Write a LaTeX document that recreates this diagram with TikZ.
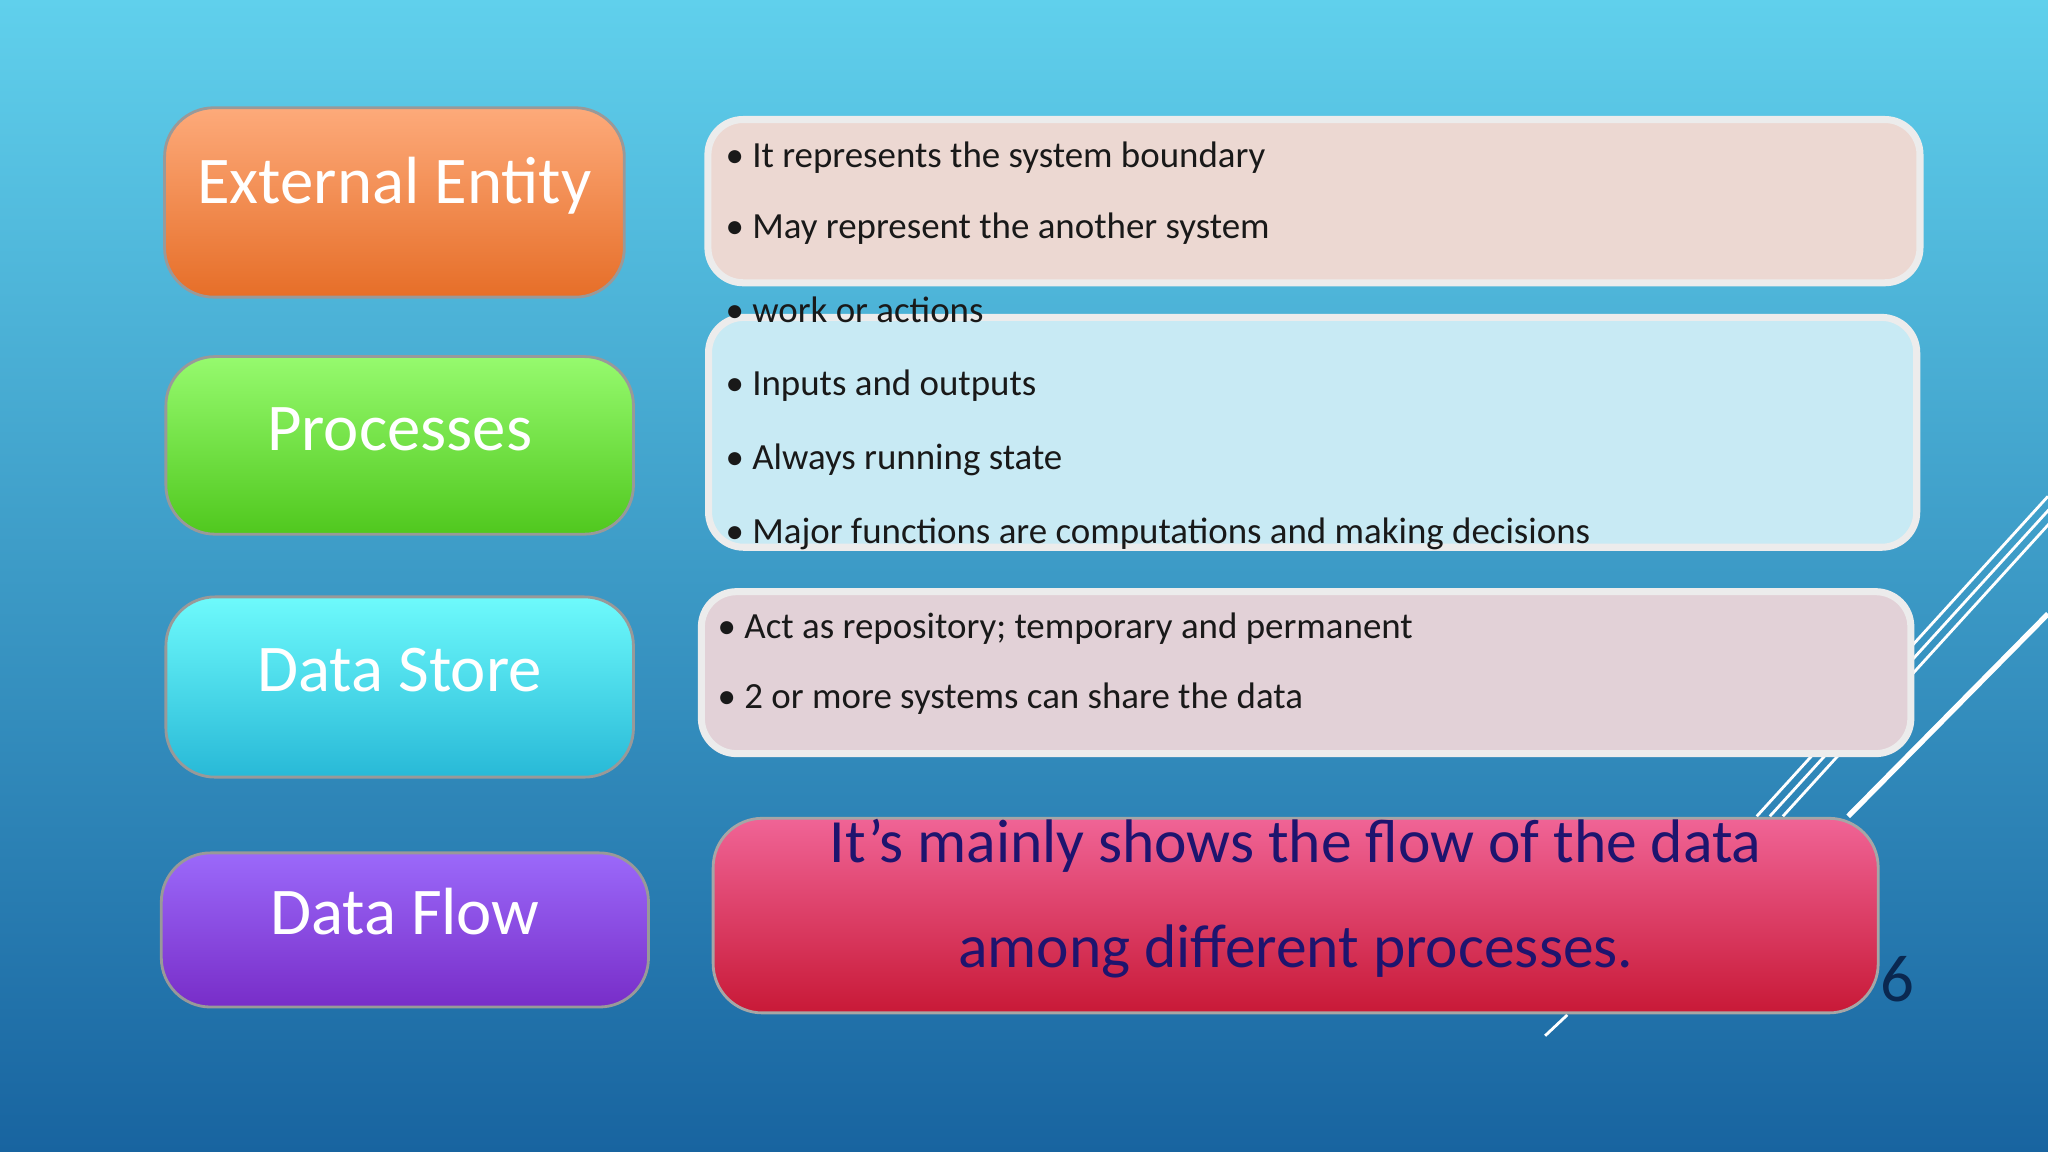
\documentclass[tikz,border=0pt]{standalone}
\usepackage{fontspec}
\setmainfont{Carlito}
\begin{document}
\begin{tikzpicture}[x=0.013061cm,y=-0.013061cm,
  lbox/.style={rounded corners=14pt,draw=black!40,line width=0.8pt},
  rbox/.style={rounded corners=10pt,draw=white!85!gray,line width=2pt},
  ltxt/.style={text=white,font=\fontsize{19}{22}\selectfont},
  btxt/.style={anchor=west,font=\fontsize{10.5}{12}\selectfont,text=black!90}]
\fill[top color={rgb,255:red,96;green,208;blue,236}, bottom color={rgb,255:red,24;green,100;blue,160}] (0,0) rectangle (1568,882);
\useasboundingbox (0,0) rectangle (1568,882);
% decorative lines
\foreach \a/\b in {1345/625,1355/625,1365/625}{\draw[white,line width=0.8pt] (\a,\b) -- (\a+223,\b-245);}
\draw[white,line width=1.5pt] (1415,625) -- (1568,470);
\draw[white,line width=0.8pt] (1183,793) -- (1200,777);
% left boxes
\node[lbox,top color={rgb,255:red,253;green,170;blue,122},bottom color={rgb,255:red,230;green,110;blue,40},minimum width={352*0.013061cm},minimum height={145*0.013061cm}] (ee) at (302,155) {};
\node[ltxt] at (302,142) {External Entity};
\node[lbox,top color={rgb,255:red,150;green,250;blue,110},bottom color={rgb,255:red,80;green,200;blue,30},minimum width={358*0.013061cm},minimum height={136*0.013061cm}] (pr) at (306,341) {};
\node[ltxt] at (306,329) {Processes};
\node[lbox,top color={rgb,255:red,110;green,250;blue,252},bottom color={rgb,255:red,40;green,185;blue,215},minimum width={358*0.013061cm},minimum height={138*0.013061cm}] (ds) at (306,526) {};
\node[ltxt] at (306,513) {Data Store};
\node[lbox,top color={rgb,255:red,155;green,105;blue,250},bottom color={rgb,255:red,120;green,45;blue,200},minimum width={373*0.013061cm},minimum height={118*0.013061cm}] (df) at (310,712) {};
\node[ltxt] at (310,698) {Data Flow};
% right boxes
\node[rbox,fill={rgb,255:red,236;green,216;blue,210},minimum width={928*0.013061cm},minimum height={125*0.013061cm}] (r1) at (1006,154) {};
\node[btxt] at (546,121) {• It represents the system boundary};
\node[btxt] at (546,175) {• May represent the another system};
\node[rbox,fill={rgb,255:red,200;green,234;blue,244},minimum width={925*0.013061cm},minimum height={176*0.013061cm}] (r2) at (1005,331) {};
\node[btxt] at (546,237) {• work or actions};
\node[btxt] at (546,295) {• Inputs and outputs};
\node[btxt] at (546,352) {• Always running state};
\node[btxt] at (546,409) {• Major functions are computations and making decisions};
\node[rbox,fill={rgb,255:red,226;green,209;blue,215},minimum width={926*0.013061cm},minimum height={124*0.013061cm}] (r3) at (1000,515) {};
\node[btxt] at (540,481) {• Act as repository; temporary and permanent};
\node[btxt] at (540,535) {• 2 or more systems can share the data};
\node[rounded corners=14pt,draw=black!35,line width=0.8pt,top color={rgb,255:red,240;green,100;blue,150},bottom color={rgb,255:red,200;green,25;blue,55},minimum width={892*0.013061cm},minimum height={149*0.013061cm}] (r4) at (992,701) {};
\node[align=center,text={rgb,255:red,30;green,20;blue,110},font=\fontsize{17.5}{30}\selectfont] at (992,688) {It’s mainly shows the flow of the data\\among different processes.};
\node[text={rgb,255:red,10;green,40;blue,80},font=\fontsize{19}{22}\selectfont] (pg) at (1453,750) {6};
\end{tikzpicture}
\end{document}
